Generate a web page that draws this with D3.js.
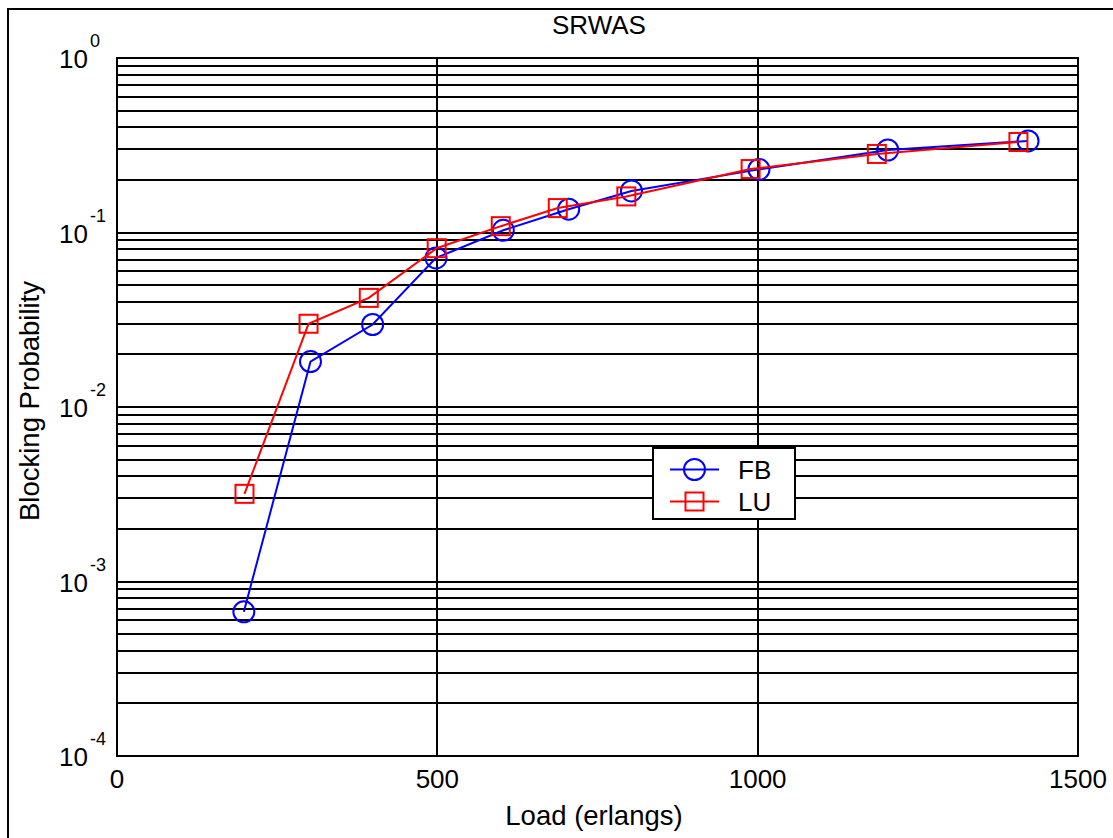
<!DOCTYPE html>
<html>
<head>
<meta charset="utf-8">
<script src="https://cdn.jsdelivr.net/npm/d3@7"></script>
<style>
  body { margin: 0; background: #fff; }
  svg { display: block; font-family: Arial, "Liberation Sans", sans-serif; }
</style>
</head>
<body>
<script>
// Data
const loadFB = [198, 302, 399, 498, 603, 705, 803, 1002, 1203, 1422]
const probFB = [0.00067, 0.0182, 0.0297, 0.0715, 0.103, 0.136, 0.173, 0.230, 0.297, 0.335]
const loadLU = [199, 299, 393, 499, 599, 688, 795, 989, 1186, 1407]
const probLU = [0.00318, 0.0300, 0.0422, 0.0813, 0.1087, 0.138, 0.161, 0.231, 0.282, 0.330]
const xTicks = [0, 500, 1000, 1500]
const yDecades = [1e-4, 1e-3, 1e-2, 1e-1, 1]
const yExponents = ['-4', '-3', '-2', '-1', '0']
const seriesNames = ['FB', 'LU']

const width = 1113
const height = 838
const plotLeft = 117
const plotRight = 1078
const plotTop = 58
const plotBottom = 756

const svg = d3.select('body').append('svg')
  .attr('width', width)
  .attr('height', height)

// Outer figure frame (runs off the right and bottom edge)
svg.append('rect')
  .attr('x', 8).attr('y', 9)
  .attr('width', 1200).attr('height', 900)
  .attr('fill', 'none')
  .attr('stroke', '#000')
  .attr('stroke-width', 2)

const x = d3.scaleLinear().domain([0, 1500]).range([plotLeft, plotRight])
const y = d3.scaleLog().domain([1e-4, 1]).range([plotBottom, plotTop])

// Grid lines
const grid = svg.append('g').attr('stroke', '#000').attr('stroke-width', 2)
grid.selectAll('.hgrid')
  .data(y.ticks())
  .enter()
  .append('line')
  .attr('x1', plotLeft).attr('x2', plotRight)
  .attr('y1', d => Math.round(y(d)))
  .attr('y2', d => Math.round(y(d)))
grid.selectAll('.vgrid')
  .data(xTicks.slice(1, -1))
  .enter()
  .append('line')
  .attr('x1', d => Math.round(x(d))).attr('x2', d => Math.round(x(d)))
  .attr('y1', plotTop).attr('y2', plotBottom)

// Plot box
svg.append('rect')
  .attr('x', plotLeft).attr('y', plotTop)
  .attr('width', plotRight - plotLeft).attr('height', plotBottom - plotTop)
  .attr('fill', 'none')
  .attr('stroke', '#000')
  .attr('stroke-width', 2)

// Tick labels
svg.selectAll('.xlabel')
  .data(xTicks)
  .enter()
  .append('text')
  .attr('x', d => x(d))
  .attr('y', 788)
  .attr('text-anchor', 'middle')
  .attr('font-size', 26)
  .text(d => d)

const yLabels = svg.selectAll('.ylabel')
  .data(yDecades)
  .enter()
  .append('text')
  .attr('x', 59)
  .attr('y', d => y(d) + 10)
  .attr('font-size', 26)
yLabels.append('tspan').text('10')
yLabels.append('tspan')
  .attr('dx', 2)
  .attr('dy', -21)
  .attr('font-size', 18)
  .text((d, i) => yExponents[i])

// Title and axis labels
svg.append('text')
  .attr('x', 599).attr('y', 34)
  .attr('text-anchor', 'middle')
  .attr('font-size', 26)
  .text('SRWAS')
svg.append('text')
  .attr('x', 594).attr('y', 825)
  .attr('text-anchor', 'middle')
  .attr('font-size', 27.5)
  .text('Load (erlangs)')
svg.append('text')
  .attr('transform', 'translate(39, 401) rotate(-90)')
  .attr('text-anchor', 'middle')
  .attr('font-size', 27.5)
  .text('Blocking Probability')

// Series
const line = d3.line()
  .x(d => x(d[0]))
  .y(d => y(d[1]))

const fb = d3.zip(loadFB, probFB)
const lu = d3.zip(loadLU, probLU)

svg.append('path')
  .datum(fb)
  .attr('d', line)
  .attr('fill', 'none')
  .attr('stroke', '#0000ff')
  .attr('stroke-width', 2)
svg.selectAll('.fb')
  .data(fb)
  .enter()
  .append('circle')
  .attr('cx', d => x(d[0]))
  .attr('cy', d => y(d[1]))
  .attr('r', 10.5)
  .attr('fill', 'none')
  .attr('stroke', '#0000ff')
  .attr('stroke-width', 2)

svg.append('path')
  .datum(lu)
  .attr('d', line)
  .attr('fill', 'none')
  .attr('stroke', '#ff0000')
  .attr('stroke-width', 2)
svg.selectAll('.lu')
  .data(lu)
  .enter()
  .append('rect')
  .attr('x', d => x(d[0]) - 9)
  .attr('y', d => y(d[1]) - 9)
  .attr('width', 18)
  .attr('height', 18)
  .attr('fill', 'none')
  .attr('stroke', '#ff0000')
  .attr('stroke-width', 2)

// Legend
const legend = svg.append('g')
legend.append('rect')
  .attr('x', 653).attr('y', 448)
  .attr('width', 142).attr('height', 71)
  .attr('fill', '#fff')
  .attr('stroke', '#000')
  .attr('stroke-width', 2)

const colors = ['#0000ff', '#ff0000']
seriesNames.forEach((name, i) => {
  const ly = 469.5 + i * 32
  legend.append('line')
    .attr('x1', 670).attr('x2', 719)
    .attr('y1', ly).attr('y2', ly)
    .attr('stroke', colors[i])
    .attr('stroke-width', 2)
  if (i === 0) {
    legend.append('circle')
      .attr('cx', 694.5).attr('cy', ly).attr('r', 10.5)
      .attr('fill', 'none').attr('stroke', colors[i]).attr('stroke-width', 2)
  } else {
    legend.append('rect')
      .attr('x', 685.5).attr('y', ly - 9).attr('width', 18).attr('height', 18)
      .attr('fill', 'none').attr('stroke', colors[i]).attr('stroke-width', 2)
  }
  legend.append('text')
    .attr('x', 738).attr('y', ly + 9)
    .attr('font-size', 26)
    .text(name)
})
</script>
</body>
</html>
